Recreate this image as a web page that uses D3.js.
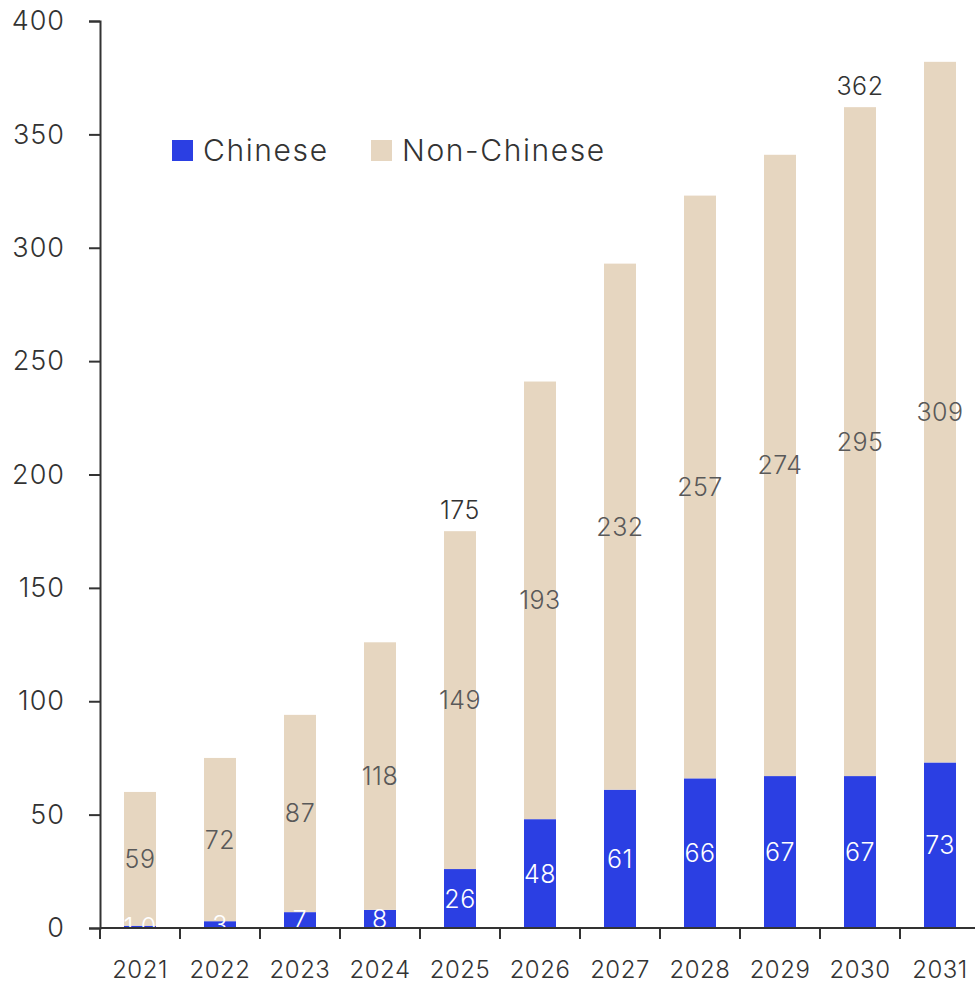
<!DOCTYPE html>
<html>
<head>
<meta charset="utf-8">
<script src="https://cdn.jsdelivr.net/npm/d3@7"></script>
<style>
  html, body { margin: 0; padding: 0; background: #fff; }
  svg { display: block; font-family: "Inter", "Noto Sans", sans-serif; font-weight: 300; }
</style>
</head>
<body>
<svg id="chart" width="975" height="983"></svg>
<script>
// Annual volumes split by origin
const years = ["2021", "2022", "2023", "2024", "2025", "2026", "2027", "2028", "2029", "2030", "2031"];
const chinese = [1.0, 3, 7, 8, 26, 48, 61, 66, 67, 67, 73];
const nonChinese = [59, 72, 87, 118, 149, 193, 232, 257, 274, 295, 309];
const seriesNames = ["Chinese", "Non-Chinese"];
const totalLabelYears = ["2025", "2030"];
const yTicks = [0, 50, 100, 150, 200, 250, 300, 350, 400];

const colors = { "Chinese": "#2b3fe3", "Non-Chinese": "#e6d6c0" };

const svg = d3.select("#chart");
const margin = { left: 100, right: 980, top: 21, bottom: 928 };

const rows = years.map((y, i) => ({ year: y, "Chinese": chinese[i], "Non-Chinese": nonChinese[i] }));
const stacked = d3.stack().keys(seriesNames)(rows);

const x = d3.scaleBand().domain(years).range([margin.left, margin.right]).paddingInner(0.6).paddingOuter(0.3);
const y = d3.scaleLinear().domain([0, 400]).range([margin.bottom, margin.top]);

// clip area for marks and in-bar labels
svg.append("defs").append("clipPath").attr("id", "plotClip")
  .append("rect").attr("x", margin.left).attr("y", 0)
  .attr("width", 975 - margin.left).attr("height", margin.bottom);

const plot = svg.append("g").attr("clip-path", "url(#plotClip)");

// stacked bars
plot.selectAll("g.series").data(stacked).join("g")
  .attr("class", "series")
  .attr("fill", d => colors[d.key])
  .selectAll("rect").data(d => d).join("rect")
  .attr("x", d => x(d.data.year))
  .attr("width", x.bandwidth())
  .attr("y", d => y(d[1]))
  .attr("height", d => y(d[0]) - y(d[1]));

const fmt = v => (v < 1.5 ? d3.format(".1f")(v) : d3.format("d")(v));

// segment value labels
stacked.forEach(s => {
  plot.append("g").selectAll("text").data(s).join("text")
    .attr("x", d => x(d.data.year) + x.bandwidth() / 2)
    .attr("y", d => y((d[0] + d[1]) / 2))
    .attr("dy", "0.36em")
    .attr("text-anchor", "middle")
    .attr("font-size", 25)
    .attr("letter-spacing", 0.5)
    .attr("fill", s.key === "Chinese" ? "#ffffff" : "#595959")
    .text(d => fmt(d.data[s.key]));
});

// total labels above selected bars
svg.append("g").selectAll("text")
  .data(rows.filter(r => totalLabelYears.includes(r.year)))
  .join("text")
  .attr("x", d => x(d.year) + x.bandwidth() / 2)
  .attr("y", d => y(d["Chinese"] + d["Non-Chinese"]) - 12)
  .attr("text-anchor", "middle")
  .attr("font-size", 25)
  .attr("letter-spacing", 0.5)
  .attr("fill", "#333")
  .text(d => fmt(d["Chinese"] + d["Non-Chinese"]));

// y axis
const yAxis = svg.append("g")
  .attr("transform", `translate(${margin.left},0)`)
  .call(d3.axisLeft(y).tickValues(yTicks).tickSize(11).tickPadding(24).tickSizeOuter(11));
yAxis.select(".domain").attr("stroke", "#333").attr("stroke-width", 2);
yAxis.selectAll(".tick line").attr("stroke", "#333").attr("stroke-width", 2);
yAxis.selectAll(".tick text").attr("font-size", 27).attr("fill", "#333")
  .attr("letter-spacing", 1)
  .attr("font-family", "Inter, 'Noto Sans', sans-serif");

// x axis with ticks at band boundaries
const xAxisG = svg.append("g").attr("transform", `translate(0,${margin.bottom})`);
xAxisG.append("line")
  .attr("x1", margin.left).attr("x2", 975)
  .attr("stroke", "#333").attr("stroke-width", 2);
const step = x.step();
const boundaries = d3.range(years.length).map(i => margin.left + i * step);
xAxisG.selectAll("line.tick").data(boundaries).join("line")
  .attr("class", "tick")
  .attr("x1", d => d).attr("x2", d => d)
  .attr("y1", 0).attr("y2", 11)
  .attr("stroke", "#333").attr("stroke-width", 2);
xAxisG.selectAll("text").data(years).join("text")
  .attr("x", d => x(d) + x.bandwidth() / 2)
  .attr("y", 50)
  .attr("text-anchor", "middle")
  .attr("font-size", 24)
  .attr("letter-spacing", 0.5)
  .attr("fill", "#333")
  .text(d => d);

// legend
const legend = svg.append("g").attr("transform", "translate(172,140)");
const legendOffsets = [0, 199];
seriesNames.forEach((name, i) => {
  const g = legend.append("g").attr("transform", `translate(${legendOffsets[i]},0)`);
  g.append("rect").attr("width", 21).attr("height", 21).attr("fill", colors[name]);
  g.append("text").attr("x", 31).attr("y", 21)
    .attr("font-size", 30).attr("letter-spacing", 1.6).attr("fill", "#333").text(name);
});
</script>
</body>
</html>
